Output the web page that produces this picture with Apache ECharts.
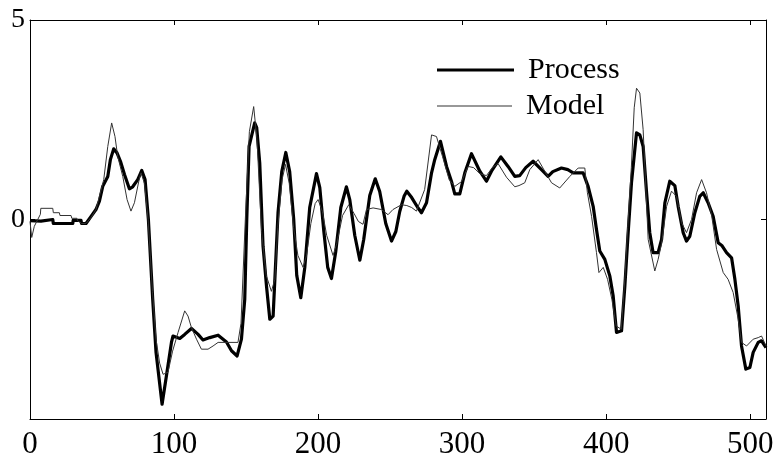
<!DOCTYPE html>
<html>
<head>
<meta charset="utf-8">
<script src="https://cdn.jsdelivr.net/npm/echarts@6/dist/echarts.min.js"></script>
<style>
html,body{margin:0;padding:0;background:#fff;}
#chart{width:781px;height:460px;}
</style>
</head>
<body>
<div id="chart"></div>
<script>
// ---- data ----
var xTicks = [0, 100, 200, 300, 400, 500];
var yTicks = [5, 0];
var seriesNames = ['Process', 'Model'];

var processX = [0,7.6,8,15.8,16.2,29.7,30,35.4,35.8,38.9,42.4,45.8,48.2,50.5,54,55.8,58.1,60.4,62.8,65.6,69,71.3,74.8,77.6,79.9,82.2,85.2,87.5,91.7,94.7,98.2,99.3,104,107.4,112.1,116.7,120.1,124.8,130.6,136.4,139.9,143.8,146.8,149.1,150.5,152.1,156,157.4,159.5,161.8,164.2,166.5,168.8,172.2,174.8,177.6,180.3,183.1,185.2,188,190.8,194.2,198.9,201.2,204,206.7,209.3,212.3,215.8,219.7,222,225.5,229,231.7,235.9,239.7,242.8,247,251,254,256.7,259.7,261.6,265,269.2,271.8,275.3,278.8,281,285,289.2,292.6,294.9,298.4,301.9,306.5,312.3,316.9,320.4,326.9,331.9,336.6,340,344.2,349.3,355.1,359.7,363,369,373.4,377.1,384,387.5,391,393.3,395.6,399.1,402.6,404.9,407.2,410.7,413,415.3,417.6,421.1,423.4,425.7,428.1,430.3,432.6,436.1,438.5,440.8,444.2,447.7,450,453.5,455.8,458.1,461.6,465,467.4,470.8,474.3,477.8,480.3,483.6,487.1,489.4,491.7,494,497,499.8,502.1,505.6,507.9,511];
var processY = [-0.03,-0.04,0,0,-0.1,-0.1,-0.02,-0.02,-0.1,-0.1,0.08,0.25,0.46,0.83,1.08,1.5,1.77,1.67,1.46,1.13,0.77,0.82,1.0,1.23,1.0,0.0,-2.0,-3.33,-4.63,-3.92,-3.08,-2.92,-2.98,-2.88,-2.73,-2.88,-3.02,-2.96,-2.9,-3.07,-3.29,-3.42,-3.0,-2.0,0.0,1.83,2.42,2.3,1.42,-0.67,-1.67,-2.5,-2.42,0.17,1.2,1.68,1.2,0.0,-1.4,-1.96,-1.2,0.3,1.15,0.8,-0.3,-1.2,-1.48,-0.8,0.3,0.82,0.5,-0.4,-1.02,-0.5,0.6,1.02,0.7,-0.1,-0.54,-0.3,0.2,0.58,0.71,0.55,0.3,0.17,0.42,1.17,1.5,1.96,1.33,0.96,0.64,0.64,1.17,1.65,1.21,0.96,1.21,1.57,1.33,1.08,1.1,1.3,1.46,1.25,1.08,1.2,1.29,1.25,1.17,1.17,0.83,0.33,-0.25,-0.79,-1.0,-1.42,-1.92,-2.83,-2.79,-1.67,-0.33,0.92,2.17,2.12,1.83,0.67,-0.33,-0.83,-0.83,-0.5,0.42,0.96,0.85,0.33,-0.33,-0.54,-0.42,0.17,0.58,0.67,0.42,0.08,-0.58,-0.65,-0.83,-0.96,-1.5,-2.17,-3.17,-3.75,-3.71,-3.33,-3.08,-3.04,-3.21];

var modelX = [0,1.2,3,7.2,7.5,15.8,16.2,20.4,20.8,28.5,29,32.6,33,35.8,38.9,42.4,45.8,48.2,51.2,54,56.7,59,60.9,64.4,67.4,70.1,72.5,76,77.1,79.5,82,85,87.5,90,92.4,95.8,99,102.8,107.4,109.7,112,115.6,119,123.6,127.1,130.6,144.4,146.5,149.5,152.3,155.3,157.6,160.8,164,167.6,170,172,175,177.4,180,183,186,189.6,192,195,198,200,203,206,210.4,213,217,221.3,225,228,231.2,233.6,238.2,244,248.6,252,257.9,261.6,265,268.3,274,278.8,282.2,286.4,291,294.9,299.6,304.2,308,312.3,316.9,321,325,330.8,336.6,339.5,343.5,347,352.8,357.4,362.1,367.8,374.8,380.6,385.2,387,389.9,393.3,395,398,401,404,407,410.5,413,415,417.5,419.5,421.1,423.4,425.7,429.2,433.8,436.1,438.5,442,445.4,448.9,452.4,455.8,459.3,462.8,466.3,469.7,473.2,476.7,481.3,484.7,488.2,491.7,494,497.5,502.1,505.6,507.9,511];
var modelY = [-0.05,-0.45,-0.17,0.13,0.28,0.28,0.17,0.17,0.1,0.1,0.03,0.03,-0.03,-0.1,-0.1,0.05,0.25,0.58,1.0,1.83,2.42,2.08,1.58,1.08,0.5,0.21,0.42,1.04,1.17,0.9,0.0,-1.8,-3.0,-3.6,-3.88,-3.83,-3.3,-2.83,-2.29,-2.42,-2.7,-3.0,-3.25,-3.25,-3.17,-3.08,-3.08,-2.6,0.0,2.2,2.83,2.0,-0.3,-1.4,-1.8,-1.5,-0.2,1.0,1.38,0.9,-0.2,-0.9,-1.2,-0.9,-0.1,0.4,0.5,0.2,-0.4,-0.9,-0.6,0.1,0.37,0.15,-0.05,-0.12,0.25,0.29,0.25,0.12,0.25,0.37,0.35,0.3,0.21,0.75,2.12,2.08,1.58,1.0,0.83,0.95,1.33,1.3,1.15,1.1,1.3,1.4,1.06,0.82,0.85,0.92,1.25,1.5,1.21,0.92,0.79,1.08,1.29,1.29,0.67,0.08,-0.83,-1.33,-1.2,-1.5,-2.0,-2.67,-2.75,-1.5,-0.2,1.3,2.8,3.29,3.17,2.25,-0.5,-1.29,-1.0,-0.6,0.33,0.71,0.58,-0.08,-0.33,0.0,0.67,1.0,0.67,0.12,-0.75,-1.33,-1.5,-1.83,-2.5,-3.08,-3.17,-3.0,-2.96,-2.92,-3.17];

function pairs(xs, ys) {
  var out = [];
  for (var i = 0; i < xs.length; i++) out.push([xs[i], ys[i]]);
  return out;
}

var serif = "'Liberation Serif', 'DejaVu Serif', serif";
var chart = echarts.init(document.getElementById('chart'), null, {renderer: 'canvas'});

var tickStyle = {show: true, inside: true, length: 5, lineStyle: {color: '#000', width: 1}};
var axisLineStyle = {show: true, onZero: false, lineStyle: {color: '#000', width: 1}};
var legendText = {fontFamily: serif, fontSize: 30, color: '#000', padding: [0, 0, 0, 9]};

chart.setOption({
  animation: false,
  backgroundColor: '#fff',
  grid: {left: 30, right: 15, top: 20, bottom: 40, show: false},
  legend: [{
    left: 432, top: 50, icon: 'rect', itemWidth: 77, itemHeight: 3,
    data: [seriesNames[0]], textStyle: legendText
  }, {
    left: 432, top: 86, icon: 'rect', itemWidth: 75, itemHeight: 1,
    data: [seriesNames[1]], textStyle: legendText
  }],
  xAxis: [{
    type: 'value', min: 0, max: 511, interval: 100, position: 'bottom',
    axisLine: axisLineStyle, axisTick: tickStyle, splitLine: {show: false},
    axisLabel: {
      margin: 10, color: '#000', fontFamily: serif, fontSize: 31, showMaxLabel: false,
      formatter: function (v) { return xTicks.indexOf(v) >= 0 ? String(v) : ''; }
    }
  }, {
    type: 'value', min: 0, max: 511, interval: 100, position: 'top',
    axisLine: axisLineStyle, axisTick: tickStyle, splitLine: {show: false}, axisLabel: {show: false}
  }],
  yAxis: [{
    type: 'value', min: -5, max: 5, interval: 5, position: 'left',
    axisLine: axisLineStyle, axisTick: tickStyle, splitLine: {show: false},
    axisLabel: {
      margin: 5, color: '#000', fontFamily: serif, fontSize: 28,
      formatter: function (v) { return yTicks.indexOf(v) >= 0 ? String(v) : ''; }
    }
  }, {
    type: 'value', min: -5, max: 5, interval: 5, position: 'right',
    axisLine: axisLineStyle, axisTick: tickStyle, splitLine: {show: false}, axisLabel: {show: false}
  }],
  series: [{
    name: seriesNames[0], type: 'line', data: pairs(processX, processY),
    showSymbol: false, symbol: 'none', z: 3,
    lineStyle: {color: '#000', width: 3.2, join: 'round'},
    itemStyle: {color: '#000'}
  }, {
    name: seriesNames[1], type: 'line', data: pairs(modelX, modelY),
    showSymbol: false, symbol: 'none', z: 4,
    lineStyle: {color: '#333', width: 1},
    itemStyle: {color: '#333'}
  }]
});
</script>
</body>
</html>
